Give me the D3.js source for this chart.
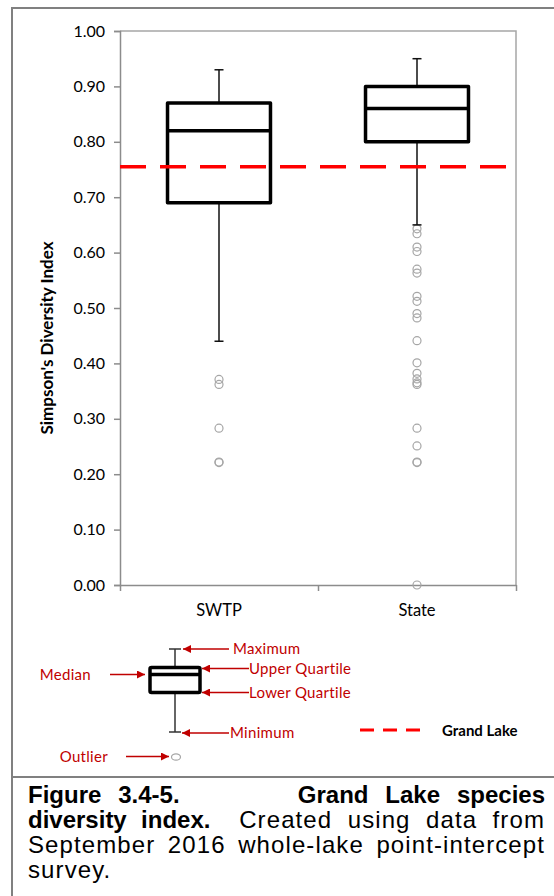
<!DOCTYPE html>
<html>
<head>
<meta charset="utf-8">
<script src="https://cdn.jsdelivr.net/npm/d3@7"></script>
<style>
  html, body { margin: 0; padding: 0; background: #fff; }
  #wrap { position: relative; width: 554px; height: 896px; overflow: hidden; }
  #caption {
    position: absolute; left: 28px; top: 782px; width: 517px;
    font-family: 'Liberation Sans', Arial, sans-serif; font-size: 24px; line-height: 25px; color: #000;
  }
  #caption .ln { text-align: justify; text-align-last: justify; white-space: nowrap; }
  #caption .ln.last { text-align-last: left; }
  #caption .reg { letter-spacing: 1.1px; }
</style>
</head>
<body>
<div id="wrap">
  <div id="chart-area"></div>
  <div id="caption">
    <div class="ln"><b>Figure 3.4-5.&nbsp;&nbsp;&nbsp;&nbsp;&nbsp;&nbsp; Grand Lake species</b></div>
    <div class="ln"><b>diversity index.</b>&nbsp; <span class="reg">Created using data from</span></div>
    <div class="ln reg">September 2016 whole-lake point-intercept</div>
    <div class="ln last reg">survey.</div>
  </div>
</div>
<script>
// box plot stats
const categories = ['SWTP', 'State'];
const maxima = [0.93, 0.95];
const upperQuartiles = [0.87, 0.90];
const medians = [0.82, 0.86];
const lowerQuartiles = [0.69, 0.80];
const minima = [0.44, 0.65];
const swtpOutliers = [0.371, 0.362, 0.283, 0.222, 0.221];
const stateOutliers = [0.643, 0.634, 0.610, 0.602, 0.570, 0.563, 0.521, 0.512, 0.490, 0.482,
  0.441, 0.401, 0.382, 0.372, 0.365, 0.362, 0.283, 0.251, 0.222, 0.221, 0.0];
const grandLake = 0.755;
const yTicks = [0, 0.1, 0.2, 0.3, 0.4, 0.5, 0.6, 0.7, 0.8, 0.9, 1.0];

let width = 554;
let height = 896;
let plot = { left: 120, right: 516, top: 31, bottom: 585 };
let axisGrey = '#8c8c8c';
let red = '#ff0000';
let darkRed = '#c00000';
let chartFont = "Lato, 'Open Sans', sans-serif";

let svg = d3
  .select('#chart-area')
  .append('svg')
  .attr('width', width)
  .attr('height', height)
  .style('display', 'block');

//outer frame
let frame = svg.append('g').attr('stroke', '#808080').attr('stroke-width', 2).attr('fill', 'none');
frame.append('line').attr('x1', 12).attr('x2', width).attr('y1', 8).attr('y2', 8);
frame.append('line').attr('x1', 12).attr('x2', 12).attr('y1', 7).attr('y2', height);
frame.append('line').attr('x1', 12).attr('x2', width).attr('y1', 777).attr('y2', 777);

let yScale = d3.scaleLinear().domain([0, 1]).range([plot.bottom, plot.top]);
let xScale = d3.scaleBand().domain(categories).range([plot.left, plot.right]);
let xEdges = d3.scaleLinear().domain([0, categories.length]).range([plot.left, plot.right]);
let boxWidth = xScale.bandwidth() * 0.52;
let capWidth = 9;

//plot border (top / right)
svg
  .append('path')
  .attr('d', `M${plot.left},${plot.top}H${plot.right}V${plot.bottom}`)
  .attr('fill', 'none')
  .attr('stroke', '#a6a6a6')
  .attr('stroke-width', 1.5);

//y axis
let yAxis = svg
  .append('g')
  .attr('transform', `translate(${plot.left}, 0)`)
  .call(d3.axisLeft(yScale).tickValues(yTicks).tickFormat(d3.format('.2f')).tickSize(6).tickPadding(9));
yAxis.select('.domain').attr('stroke', axisGrey).attr('stroke-width', 1.5);
yAxis.selectAll('.tick line').attr('stroke', axisGrey).attr('stroke-width', 1.5);
yAxis.selectAll('text').attr('font-family', chartFont).attr('font-size', 16).attr('fill', '#000');

//x axis: ticks on the category edges, labels in the middle
let xAxis = svg
  .append('g')
  .attr('transform', `translate(0, ${plot.bottom})`)
  .call(d3.axisBottom(xEdges).tickValues(d3.range(categories.length + 1)).tickFormat('').tickSize(6).tickSizeOuter(0));
xAxis.select('.domain').attr('stroke', axisGrey).attr('stroke-width', 1.5);
xAxis.selectAll('.tick line').attr('stroke', axisGrey).attr('stroke-width', 1.5);

svg
  .append('g')
  .selectAll('text')
  .data(categories)
  .enter()
  .append('text')
  .attr('x', (d) => xScale(d) + xScale.bandwidth() / 2)
  .attr('y', plot.bottom + 31)
  .attr('text-anchor', 'middle')
  .attr('font-family', chartFont)
  .attr('font-size', 16.5)
  .text((d) => d);

//y axis title
svg
  .append('text')
  .attr('transform', `translate(53, 338) rotate(-90)`)
  .attr('text-anchor', 'middle')
  .attr('font-family', chartFont)
  .attr('font-weight', 'bold')
  .attr('font-size', 17)
  .text("Simpson's Diversity Index");

//outliers
let outlierData = [];
swtpOutliers.forEach((v) => outlierData.push({ cat: 'SWTP', v: v }));
stateOutliers.forEach((v) => outlierData.push({ cat: 'State', v: v }));
svg
  .append('g')
  .selectAll('circle')
  .data(outlierData)
  .enter()
  .append('circle')
  .attr('cx', (d) => xScale(d.cat) + xScale.bandwidth() / 2)
  .attr('cy', (d) => yScale(d.v))
  .attr('r', 4)
  .attr('fill', 'none')
  .attr('stroke', '#a6a6a6')
  .attr('stroke-width', 1.2);

//boxes
let boxes = svg
  .append('g')
  .selectAll('g')
  .data(categories)
  .enter()
  .append('g')
  .attr('transform', (d) => `translate(${xScale(d) + xScale.bandwidth() / 2}, 0)`);
boxes
  .append('line')
  .attr('y1', (d, i) => yScale(maxima[i]))
  .attr('y2', (d, i) => yScale(minima[i]))
  .attr('stroke', '#111')
  .attr('stroke-width', 1.5);
boxes
  .append('line')
  .attr('x1', -capWidth / 2)
  .attr('x2', capWidth / 2)
  .attr('y1', (d, i) => yScale(maxima[i]))
  .attr('y2', (d, i) => yScale(maxima[i]))
  .attr('stroke', '#111')
  .attr('stroke-width', 1.5);
boxes
  .append('line')
  .attr('x1', -capWidth / 2)
  .attr('x2', capWidth / 2)
  .attr('y1', (d, i) => yScale(minima[i]))
  .attr('y2', (d, i) => yScale(minima[i]))
  .attr('stroke', '#111')
  .attr('stroke-width', 1.5);
boxes
  .append('rect')
  .attr('x', -boxWidth / 2)
  .attr('width', boxWidth)
  .attr('y', (d, i) => yScale(upperQuartiles[i]))
  .attr('height', (d, i) => yScale(lowerQuartiles[i]) - yScale(upperQuartiles[i]))
  .attr('fill', '#fff')
  .attr('stroke', '#000')
  .attr('stroke-width', 3.5)
  .attr('stroke-linejoin', 'round');
boxes
  .append('line')
  .attr('x1', -boxWidth / 2)
  .attr('x2', boxWidth / 2)
  .attr('y1', (d, i) => yScale(medians[i]))
  .attr('y2', (d, i) => yScale(medians[i]))
  .attr('stroke', '#000')
  .attr('stroke-width', 3.5);

//grand lake reference line
svg
  .append('line')
  .attr('x1', plot.left)
  .attr('x2', plot.right)
  .attr('y1', yScale(grandLake))
  .attr('y2', yScale(grandLake))
  .attr('stroke', red)
  .attr('stroke-width', 3.5)
  .attr('stroke-dasharray', '26,14');

//explanation legend
svg
  .append('defs')
  .append('marker')
  .attr('id', 'arrow')
  .attr('viewBox', '0 0 10 10')
  .attr('refX', 10)
  .attr('refY', 5)
  .attr('markerWidth', 9)
  .attr('markerHeight', 8)
  .attr('markerUnits', 'userSpaceOnUse')
  .attr('orient', 'auto')
  .append('path')
  .attr('d', 'M0,0L10,5L0,10Z')
  .attr('fill', darkRed);

let key = svg.append('g');
let kx = 175;
key.append('line').attr('x1', kx).attr('x2', kx).attr('y1', 649).attr('y2', 732).attr('stroke', '#333').attr('stroke-width', 1.5);
key.append('line').attr('x1', kx - 6).attr('x2', kx + 6).attr('y1', 649).attr('y2', 649).attr('stroke', '#333').attr('stroke-width', 1.5);
key.append('line').attr('x1', kx - 6).attr('x2', kx + 6).attr('y1', 732).attr('y2', 732).attr('stroke', '#333').attr('stroke-width', 1.5);
key
  .append('rect')
  .attr('x', 150)
  .attr('y', 667.5)
  .attr('width', 50)
  .attr('height', 25)
  .attr('rx', 1.5)
  .attr('fill', '#fff')
  .attr('stroke', '#000')
  .attr('stroke-width', 3.5);
key.append('line').attr('x1', 150).attr('x2', 200).attr('y1', 674.5).attr('y2', 674.5).attr('stroke', '#000').attr('stroke-width', 3.5);
key
  .append('ellipse')
  .attr('cx', 176)
  .attr('cy', 757)
  .attr('rx', 4.5)
  .attr('ry', 3.2)
  .attr('fill', 'none')
  .attr('stroke', '#a6a6a6')
  .attr('stroke-width', 1.2);

let keyLabels = [
  { text: 'Maximum', x1: 229, x2: 183, y: 649, tx: 233, anchor: 'start' },
  { text: 'Upper Quartile', x1: 249, x2: 202, y: 668.5, tx: 249, anchor: 'start' },
  { text: 'Lower Quartile', x1: 249, x2: 202, y: 692.5, tx: 249, anchor: 'start' },
  { text: 'Minimum', x1: 229, x2: 182, y: 733, tx: 230, anchor: 'start' },
  { text: 'Median', x1: 110, x2: 145, y: 674.5, tx: 91, anchor: 'end' },
  { text: 'Outlier', x1: 126, x2: 169, y: 756.5, tx: 108, anchor: 'end' },
];
key
  .selectAll('.arrow')
  .data(keyLabels)
  .enter()
  .append('line')
  .attr('class', 'arrow')
  .attr('x1', (d) => d.x1)
  .attr('x2', (d) => d.x2)
  .attr('y1', (d) => d.y)
  .attr('y2', (d) => d.y)
  .attr('stroke', darkRed)
  .attr('stroke-width', 1.5)
  .attr('marker-end', 'url(#arrow)');
key
  .selectAll('.lbl')
  .data(keyLabels)
  .enter()
  .append('text')
  .attr('class', 'lbl')
  .attr('x', (d) => d.tx)
  .attr('y', (d) => d.y)
  .attr('dy', '0.35em')
  .attr('text-anchor', (d) => d.anchor)
  .attr('font-family', chartFont)
  .attr('font-size', 15)
  .attr('letter-spacing', 0.3)
  .attr('fill', darkRed)
  .text((d) => d.text);

//grand lake key
key
  .append('line')
  .attr('x1', 360)
  .attr('x2', 424)
  .attr('y1', 730)
  .attr('y2', 730)
  .attr('stroke', red)
  .attr('stroke-width', 3)
  .attr('stroke-dasharray', '14,9');
key
  .append('text')
  .attr('x', 442)
  .attr('y', 731)
  .attr('dy', '0.35em')
  .attr('font-family', chartFont)
  .attr('font-weight', 'bold')
  .attr('font-size', 15)
  .text('Grand Lake');
</script>
</body>
</html>
